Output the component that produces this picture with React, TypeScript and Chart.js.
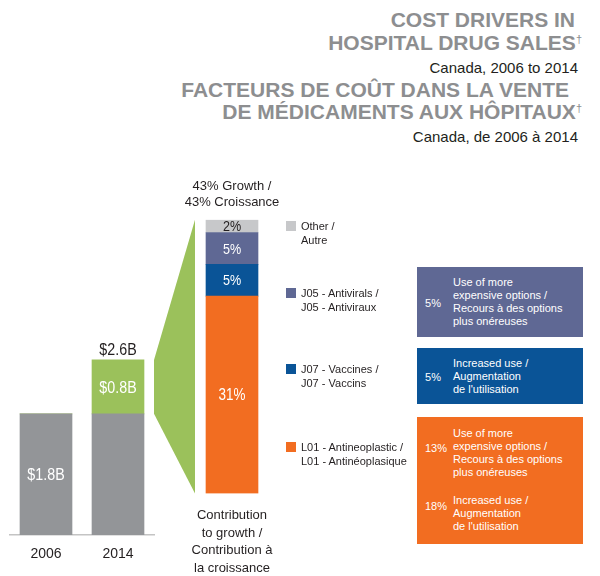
import React, { useEffect, useRef } from "react";
import { Chart, registerables } from "chart.js";

Chart.register(...registerables);

// ---------------- DATA ----------------
const years = ["2006", "2014"];
const baseSales = [1.8, 1.8]; // $B
const growthSales = [0, 0.8]; // $B
const salesAxisMax = 3.0;

const driverNames = [
  ["L01 - Antineoplastic /", "L01 - Antinéoplasique"],
  ["J07 - Vaccines /", "J07 - Vaccins"],
  ["J05 - Antivirals /", "J05 - Antiviraux"],
  ["Other /", "Autre"],
];
const contribution = [31, 5, 5, 2]; // % of growth
const contributionAxisLabel = ["Contribution", "to growth /", "Contribution à", "la croissance"];

const USE_MORE = ["Use of more", "expensive options /", "Recours à des options", "plus onéreuses"];
const INCREASED = ["Increased use /", "Augmentation", "de l'utilisation"];
const boxDriver = [2, 1, 0]; // index into driverNames
const boxPercents = [[5], [5], [13, 18]];
const boxTexts = [[USE_MORE], [INCREASED], [USE_MORE, INCREASED]];

const titleLines = ["COST DRIVERS IN", "HOSPITAL DRUG SALES", "FACTEURS DE COÛT DANS LA VENTE", "DE MÉDICAMENTS AUX HÔPITAUX"];
const subtitleLines = ["Canada, 2006 to 2014", "Canada, de 2006 à 2014"];

// ---------------- STYLE ----------------
const SANS = "'Liberation Sans', Arial, Helvetica, sans-serif";
const DARK = "#231f20";
const TITLE_GRAY = "#8d8e90";
const BAR_GRAY = "#939598";
const GREEN = "#9bc15b";
const driverColors = ["#f26d21", "#0a5497", "#5f6894", "#c7c8ca"];
const driverLabelColors = ["#ffffff", "#ffffff", "#ffffff", DARK];

const fmtB = (v: number) => `$${v.toFixed(1)}B`;

// draws horizontally condensed text (narrow look)
function narrowText(ctx: CanvasRenderingContext2D, text: string, x: number, y: number, size: number, color: string) {
  ctx.save();
  ctx.translate(x, y);
  ctx.scale(0.84, 1);
  ctx.font = `${size}px ${SANS}`;
  ctx.fillStyle = color;
  ctx.textAlign = "center";
  ctx.textBaseline = "middle";
  ctx.fillText(text, 0, 0);
  ctx.restore();
}

export default function App() {
  const c1 = useRef<HTMLCanvasElement>(null);
  const c2 = useRef<HTMLCanvasElement>(null);

  useEffect(() => {
    const total = contribution.reduce((a, b) => a + b, 0);

    // ---------- Contribution chart ----------
    const contribLabels = {
      id: "contribLabels",
      afterDatasetsDraw(chart: any) {
        const ctx = chart.ctx;
        chart.data.datasets.forEach((ds: any, i: number) => {
          const el = chart.getDatasetMeta(i).data[0];
          if (!el) return;
          const { x, y, base } = el.getProps(["x", "y", "base"], true);
          narrowText(ctx, `${ds.data[0]}%`, x, (y + base) / 2 + 1, i === 0 ? 16 : 15, driverLabelColors[i]);
        });
      },
    };

    const chart2 = new Chart(c2.current!, {
      type: "bar",
      data: {
        labels: [contributionAxisLabel],
        datasets: contribution.map((v, i) => ({
          label: driverNames[i].join(" "),
          data: [v],
          backgroundColor: driverColors[i],
          borderWidth: 0,
          barThickness: 52,
        })),
      },
      options: {
        responsive: false,
        maintainAspectRatio: false,
        animation: false,
        devicePixelRatio: 1,
        layout: { padding: 0 },
        plugins: {
          legend: { display: false },
          tooltip: { enabled: false },
          title: {
            display: true,
            text: [`${total}% Growth /`, `${total}% Croissance`],
            color: DARK,
            font: { family: SANS, size: 13, weight: "normal", lineHeight: 1.3 },
            padding: { top: 7.5, bottom: 8.5 },
          },
        },
        scales: {
          x: {
            stacked: true,
            grid: { display: false, drawTicks: false },
            border: { display: false },
            ticks: {
              color: DARK,
              font: { family: SANS, size: 13, lineHeight: 1.35 },
              padding: 13.2,
              maxRotation: 0,
              autoSkip: false,
            },
          },
          y: { stacked: true, min: 0, max: total, display: false },
        },
      },
      plugins: [contribLabels],
    });

    // ---------- Sales chart ----------
    const salesExtras = {
      id: "salesExtras",
      beforeDatasetsDraw(chart: any) {
        const ctx = chart.ctx;
        const ys = chart.scales.y;
        const area = chart.chartArea;
        const c2Canvas = c2.current!;
        const c1Canvas = c1.current!;
        const dx = c2Canvas.offsetLeft - c1Canvas.offsetLeft;
        const dy = c2Canvas.offsetTop - c1Canvas.offsetTop;
        const el = chart2.getDatasetMeta(0).data[0];
        const { x, width } = el.getProps(["x", "width"], true);
        const rightX = x - width / 2 - 11 + dx;
        const y2 = chart2.scales.y;
        const topR = y2.getPixelForValue(total) + dy;
        const botR = y2.getPixelForValue(0) + dy;
        const last = baseSales.length - 1;
        const topL = ys.getPixelForValue(baseSales[last] + growthSales[last]);
        const botL = ys.getPixelForValue(baseSales[last]);
        ctx.save();
        ctx.fillStyle = GREEN;
        ctx.beginPath();
        ctx.moveTo(area.right, topL);
        ctx.lineTo(rightX, topR);
        ctx.lineTo(rightX, botR);
        ctx.lineTo(area.right, botL);
        ctx.closePath();
        ctx.fill();
        ctx.restore();
      },
      afterDatasetsDraw(chart: any) {
        const ctx = chart.ctx;
        const m0 = chart.getDatasetMeta(0);
        const m1 = chart.getDatasetMeta(1);
        years.forEach((_, i) => {
          const b = m0.data[i].getProps(["x", "y", "base"], true);
          if (growthSales[i] === 0) {
            narrowText(ctx, fmtB(baseSales[i]), b.x, (b.y + b.base) / 2 + 1, 17, "#ffffff");
          } else {
            const g = m1.data[i].getProps(["x", "y", "base"], true);
            narrowText(ctx, fmtB(growthSales[i]), g.x, (g.y + g.base) / 2 + 1, 17, "#ffffff");
            narrowText(ctx, fmtB(baseSales[i] + growthSales[i]), g.x, g.y - 10, 17, DARK);
          }
        });
      },
    };

    const chart1 = new Chart(c1.current!, {
      type: "bar",
      data: {
        labels: years,
        datasets: [
          { label: "base", data: baseSales, backgroundColor: BAR_GRAY, borderWidth: 0, barThickness: 52 },
          { label: "growth", data: growthSales, backgroundColor: GREEN, borderWidth: 0, barThickness: 52 },
        ],
      },
      options: {
        responsive: false,
        maintainAspectRatio: false,
        animation: false,
        devicePixelRatio: 1,
        layout: { padding: { left: 10, right: 46, top: 133, bottom: 0 } },
        plugins: { legend: { display: false }, tooltip: { enabled: false }, title: { display: false } },
        scales: {
          x: {
            stacked: true,
            grid: { display: false, drawTicks: false },
            border: { display: true, color: "#c4c4c4", width: 1.5 },
            ticks: { color: DARK, font: { family: SANS, size: 14, lineHeight: 1.2 }, padding: 10.6 },
          },
          y: { stacked: true, min: 0, max: salesAxisMax, display: false },
        },
      },
      plugins: [salesExtras],
    });

    return () => {
      chart1.destroy();
      chart2.destroy();
    };
  }, []);

  const abs = (o: any): React.CSSProperties => ({ position: "absolute", whiteSpace: "nowrap", ...o });

  // layout (positions only)
  const titleRight = [575, 582, 569, 582];
  const titleCenter = [20, 43, 90, 112];
  const subRight = [578, 578];
  const subCenter = [68, 137];
  const legendCenters = [447, 369, 293, 226];
  const boxLayout = [
    { top: 267, height: 70, blocks: [{ top: 275.5, pct: 303 }] },
    { top: 348, height: 56, blocks: [{ top: 356.5, pct: 377 }] },
    { top: 417, height: 127, blocks: [{ top: 426.5, pct: 448 }, { top: 493.5, pct: 506 }] },
  ];

  return (
    <div style={{ position: "absolute", left: 0, top: 0, width: 600, height: 576, background: "#fff", overflow: "hidden" }}>
      {titleLines.map((t, i) => (
        <div
          key={"t" + i}
          style={abs({
            right: 600 - titleRight[i],
            top: titleCenter[i] - 12,
            lineHeight: "24px",
            fontFamily: SANS,
            fontWeight: "bold",
            fontSize: 21,
            color: TITLE_GRAY,
          })}
        >
          {t}
          {i === 1 || i === 3 ? (
            <span style={{ fontSize: 11, fontWeight: "normal", position: "relative", top: -7 }}>†</span>
          ) : null}
        </div>
      ))}
      {subtitleLines.map((t, i) => (
        <div
          key={"s" + i}
          style={abs({
            right: 600 - subRight[i],
            top: subCenter[i] - 9,
            lineHeight: "18px",
            fontFamily: SANS,
            fontSize: 15,
            color: DARK,
          })}
        >
          {t}
        </div>
      ))}

      <canvas ref={c1} width={200} height={373} style={{ position: "absolute", left: 0, top: 200, width: 200, height: 373 }} />
      <canvas ref={c2} width={104} height={420} style={{ position: "absolute", left: 180, top: 170, width: 104, height: 420 }} />

      {driverNames.map((lines, i) => (
        <React.Fragment key={"l" + i}>
          <div style={abs({ left: 286, top: legendCenters[i] - 5, width: 10, height: 10, background: driverColors[i] })} />
          <div style={abs({ left: 301, top: legendCenters[i] - 7, lineHeight: "14px", fontFamily: SANS, fontSize: 11, color: DARK })}>
            {lines.map((l, k) => (
              <div key={k}>{l}</div>
            ))}
          </div>
        </React.Fragment>
      ))}

      {boxLayout.map((b, i) => (
        <React.Fragment key={"b" + i}>
          <div style={abs({ left: 417, top: b.top, width: 166, height: b.height, background: driverColors[boxDriver[i]] })} />
          {b.blocks.map((bl, k) => (
            <React.Fragment key={k}>
              <div style={abs({ left: 425, top: bl.pct - 6.5, lineHeight: "13px", fontFamily: SANS, fontSize: 11, color: "#fff" })}>
                {boxPercents[i][k]}%
              </div>
              <div style={abs({ left: 453, top: bl.top, lineHeight: "13px", fontFamily: SANS, fontSize: 11, color: "#fff" })}>
                {boxTexts[i][k].map((l, j) => (
                  <div key={j}>{l}</div>
                ))}
              </div>
            </React.Fragment>
          ))}
        </React.Fragment>
      ))}
    </div>
  );
}
